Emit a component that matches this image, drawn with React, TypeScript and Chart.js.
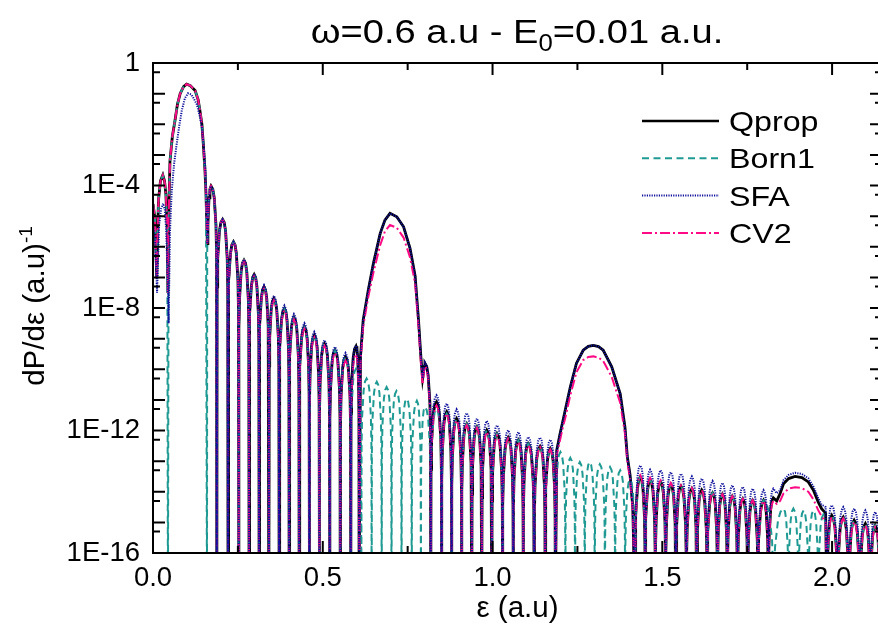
import { useEffect, useRef } from "react";
import { Chart, registerables } from "chart.js";

Chart.register(...registerables);

type Pt = [number, number]; // [energy (a.u.), log10 of dP/dε]

const FONT = "'Liberation Sans', Arial, Helvetica, sans-serif";
const CANVAS_W = 882;
const CANVAS_H = 629;
const X_MIN = 0;
const X_MAX = 2.147;
const Y_MIN = 1e-16;
const Y_MAX = 1;

// ---- axis ticks / labels ----
const xTickLabels = [0, 0.5, 1.0, 1.5, 2.0];
const xMajorTicks = [0.5, 1.0, 1.5, 2.0];
const xMinorTicks = [0.25, 0.75, 1.25, 1.75];
const yTickLabels = [1e-16, 1e-12, 1e-8, 1e-4, 1];
const yMajorTicks = [1e-15, 1e-14, 1e-13, 1e-12, 1e-11, 1e-10, 1e-9, 1e-8, 1e-7, 1e-6, 1e-5, 1e-4, 1e-3, 1e-2, 1e-1];
const yMinorTicks = [5e-16, 5e-15, 5e-14, 5e-13, 5e-12, 5e-11, 5e-10, 5e-9, 5e-8, 5e-7, 5e-6, 5e-5, 5e-4, 5e-3, 5e-2, 5e-1];

const seriesNames = ["Qprop", "Born1", "SFA", "CV2"];

// ---- low-energy part (explicit curve points, log10 values) ----
const qpropStart: Pt[] = [[0.000, -4.6], [0.006, -5.1], [0.011, -7.0], [0.016, -4.5], [0.022, -3.85], [0.029, -3.66], [0.034, -3.85], [0.038, -4.3], [0.042, -5.4], [0.044, -7.5], [0.047, -4.6], [0.050, -3.2], [0.057, -2.4], [0.065, -1.86], [0.072, -1.35], [0.080, -1.0], [0.090, -0.77], [0.099, -0.69], [0.110, -0.74], [0.124, -0.9], [0.133, -1.2], [0.138, -1.54], [0.144, -2.0], [0.148, -2.62], [0.153, -3.5], [0.156, -4.26], [0.160, -5.9]];
const born1Start: Pt[] = [[0.000, -4.6], [0.006, -5.1], [0.011, -7.0], [0.016, -4.5], [0.022, -3.85], [0.029, -3.66], [0.034, -3.85], [0.038, -4.3], [0.042, -5.4], [0.044, -18], [0.046, -5.2], [0.050, -3.2], [0.057, -2.4], [0.065, -1.86], [0.072, -1.35], [0.080, -1.0], [0.090, -0.77], [0.099, -0.69], [0.110, -0.74], [0.124, -0.9], [0.133, -1.2], [0.138, -1.54], [0.144, -2.0], [0.148, -2.62], [0.153, -3.5], [0.156, -4.26], [0.159, -18]];
const sfaStart: Pt[] = [[0.000, -5.3], [0.006, -5.8], [0.012, -7.5], [0.018, -5.3], [0.024, -4.75], [0.030, -4.59], [0.035, -4.8], [0.039, -5.5], [0.043, -7.0], [0.046, -8.5], [0.050, -5.5], [0.055, -4.2], [0.062, -3.3], [0.070, -2.62], [0.078, -2.0], [0.085, -1.54], [0.094, -1.15], [0.103, -0.99], [0.113, -1.03], [0.122, -1.2], [0.129, -1.35], [0.137, -1.7], [0.144, -2.1], [0.150, -2.8], [0.154, -3.4], [0.157, -4.5], [0.160, -5.9]];

// ---- interference lobes 0.17 – 0.60 (peak positions and peak log10 values) ----
const lobeXA = [0.171, 0.205, 0.237, 0.268, 0.298, 0.327, 0.356, 0.387, 0.415, 0.446, 0.475, 0.505, 0.536, 0.567, 0.598];
const qpropPeaksA = [-4.02, -5.11, -5.84, -6.44, -6.91, -7.31, -7.69, -8.02, -8.31, -8.62, -8.89, -9.16, -9.38, -9.6, -9.25];
const sfaPeaksA = [-4.02, -5.11, -5.84, -6.42, -6.88, -7.25, -7.6, -7.92, -8.2, -8.5, -8.78, -9.05, -9.27, -9.47, -9.22];
const cv2PeaksA = [-4.02, -5.11, -5.85, -6.46, -6.94, -7.35, -7.74, -8.07, -8.37, -8.68, -8.95, -9.23, -9.46, -9.72, -9.5];

// ---- first channel-closing hump (0.6 – 0.8) ----
const hump1Qprop: Pt[] = [[0.607, -18], [0.611, -9.6], [0.619, -8.4], [0.634, -7.42], [0.649, -6.55], [0.669, -5.57], [0.683, -5.13], [0.698, -4.91], [0.718, -5.02], [0.738, -5.35], [0.757, -6.05], [0.772, -6.95], [0.782, -8.4], [0.789, -9.6], [0.794, -10.3]];
const hump1Cv2: Pt[] = [[0.607, -18], [0.611, -9.8], [0.619, -8.6], [0.634, -7.64], [0.649, -6.85], [0.669, -5.95], [0.683, -5.5], [0.698, -5.29], [0.718, -5.38], [0.738, -5.7], [0.757, -6.35], [0.772, -7.2], [0.782, -8.6], [0.789, -9.8], [0.794, -10.5]];

// ---- lobes 0.80 – 1.17 ----
const lobeXB = [0.801, 0.835, 0.865, 0.894, 0.924, 0.954, 0.983, 1.013, 1.046, 1.076, 1.105, 1.140, 1.170];
const qpropPeaksB = [-9.81, -11.07, -11.39, -11.61, -11.78, -11.88, -11.99, -12.10, -12.23, -12.32, -12.43, -12.52, -12.59];
const sfaPeaksB = [-9.78, -10.85, -11.12, -11.31, -11.43, -11.61, -11.69, -11.83, -11.99, -12.05, -12.21, -12.23, -12.30];
const cv2PeaksB = [-9.9, -11.18, -11.45, -11.67, -11.83, -11.91, -12.05, -12.16, -12.26, -12.37, -12.48, -12.54, -12.62];

// ---- second hump (1.2 – 1.4) ----
const hump2Qprop: Pt[] = [[1.185, -18], [1.189, -12.65], [1.199, -12.1], [1.207, -11.7], [1.214, -11.34], [1.229, -10.58], [1.247, -9.81], [1.267, -9.38], [1.282, -9.25], [1.297, -9.22], [1.312, -9.26], [1.326, -9.38], [1.351, -9.92], [1.376, -10.8], [1.390, -11.89], [1.397, -12.86], [1.405, -13.45], [1.413, -14.5], [1.420, -18]];
const hump2Cv2: Pt[] = [[1.185, -18], [1.189, -12.8], [1.199, -12.3], [1.207, -11.9], [1.214, -11.6], [1.229, -10.85], [1.247, -10.1], [1.267, -9.7], [1.282, -9.6], [1.297, -9.58], [1.312, -9.62], [1.326, -9.73], [1.351, -10.25], [1.376, -11.1], [1.390, -12.1], [1.397, -13.0], [1.405, -13.6], [1.413, -14.6], [1.420, -18]];

// ---- lobes 1.43 – 1.83 ----
const lobeXC = [1.435, 1.464, 1.495, 1.525, 1.555, 1.587, 1.616, 1.648, 1.677, 1.706, 1.737, 1.766, 1.798, 1.827];
const qpropPeaksC = [-13.52, -13.61, -13.68, -13.76, -13.82, -13.9, -13.95, -14.04, -14.08, -14.15, -14.23, -14.28, -14.28, -14.2];
const sfaPeaksC = [-13.14, -13.28, -13.30, -13.36, -13.41, -13.5, -13.57, -13.65, -13.71, -13.79, -13.84, -13.9, -13.95, -13.9];
const cv2PeaksC = [-13.46, -13.54, -13.63, -13.71, -13.79, -13.88, -13.95, -14.04, -14.08, -14.15, -14.23, -14.28, -14.3, -14.3];

// ---- third hump (1.84 – 1.99) ----
const hump3Qprop: Pt[] = [[1.837, -14.3], [1.847, -14.06], [1.857, -13.74], [1.872, -13.57], [1.891, -13.5], [1.911, -13.54], [1.930, -13.68], [1.945, -13.95], [1.959, -14.33], [1.969, -14.55], [1.981, -14.7], [1.985, -18]];
const hump3Sfa: Pt[] = [[1.837, -14.05], [1.847, -13.95], [1.857, -13.62], [1.872, -13.45], [1.891, -13.38], [1.911, -13.42], [1.930, -13.56], [1.945, -13.83], [1.959, -14.2], [1.969, -14.42], [1.981, -14.5], [1.985, -18]];
const hump3Cv2: Pt[] = [[1.837, -14.4], [1.847, -14.3], [1.857, -14.05], [1.872, -13.9], [1.891, -13.85], [1.911, -13.88], [1.930, -14.0], [1.945, -14.25], [1.959, -14.6], [1.969, -14.8], [1.981, -15.0], [1.985, -18]];

// ---- lobes above 2.0 ----
const lobeXD = [1.999, 2.033, 2.065, 2.098, 2.127];
const qpropPeaksD = [-14.77, -14.83, -14.93, -15.04, -15.1];
const sfaPeaksD = [-14.44, -14.5, -14.55, -14.61, -14.66];
const cv2PeaksD = [-14.83, -14.87, -14.99, -15.1, -15.15];

// ---- Born1 lobes inside the hump regions ----
const born1GapX1 = [0.598, 0.629, 0.659, 0.688, 0.717, 0.747, 0.777];
const born1GapPeaks1 = [-9.98, -10.3, -10.41, -10.58, -10.71, -10.96, -11.03];
const born1PeaksB = [-11.23, -11.3, -11.45, -11.63, -11.78, -11.88, -11.99, -12.10, -12.23, -12.32, -12.43, -12.52, -12.59];
const born1GapX2 = [1.200, 1.229, 1.257, 1.286, 1.316, 1.346, 1.376, 1.405];
const born1GapPeaks2 = [-12.70, -12.89, -13.03, -13.03, -13.1, -13.19, -13.3, -13.6];
const born1GapX3 = [1.857, 1.886, 1.916, 1.945, 1.974];
const born1GapPeaks3 = [-14.55, -14.55, -14.61, -14.61, -14.75];

// ---------------------------------------------------------------
type Part = { curve: Pt[] } | { lobes: number[]; peaks: number[] };
const FLOOR = -18; // zeros of the oscillation, below the axis
// drawing profile of one lobe: [fraction of the way to the zero, decades below the lobe top]
const LOBE_PROFILE: Pt[] = [[0.3, 0.1], [0.55, 0.38], [0.85, 1.27], [0.95, 2.2]];

function buildSeries(parts: Part[]) {
  const out: Pt[] = [];
  parts.forEach((part, i) => {
    if ("curve" in part) {
      out.push(...part.curve);
      return;
    }
    const xs = part.lobes;
    const peaks = part.peaks;
    const n = xs.length;
    const next = parts[i + 1];
    const nextIsCurve = !!next && "curve" in next;
    const left: Pt = out.length ? out[out.length - 1] : [xs[0] - (xs[1] - xs[0]) / 2, FLOOR];
    const right: Pt = nextIsCurve ? (next as any).curve[0] : [xs[n - 1] + (xs[n - 1] - xs[n - 2]) / 2, FLOOR];
    const dips: Pt[] = [left];
    for (let k = 0; k < n - 1; k++) dips.push([(xs[k] + xs[k + 1]) / 2, FLOOR]);
    dips.push(right);
    if (!out.length) out.push(left);
    for (let k = 0; k < n; k++) {
      const xp = xs[k];
      const vp = peaks[k];
      const dl = dips[k];
      const dr = dips[k + 1];
      for (let j = LOBE_PROFILE.length - 1; j >= 0; j--) {
        const [u, drop] = LOBE_PROFILE[j];
        if (vp - drop > dl[1] + 0.3) out.push([xp + (dl[0] - xp) * u, vp - drop]);
      }
      out.push([xp, vp]);
      for (const [u, drop] of LOBE_PROFILE) {
        if (vp - drop > dr[1] + 0.3) out.push([xp + (dr[0] - xp) * u, vp - drop]);
      }
      if (k < n - 1 || !nextIsCurve) out.push(dr);
    }
  });
  return out.map(([x, v]) => ({ x, y: Math.pow(10, v) }));
}

const qpropData = buildSeries([
  { curve: qpropStart },
  { lobes: lobeXA, peaks: qpropPeaksA },
  { curve: hump1Qprop },
  { lobes: lobeXB, peaks: qpropPeaksB },
  { curve: hump2Qprop },
  { lobes: lobeXC, peaks: qpropPeaksC },
  { curve: hump3Qprop },
  { lobes: lobeXD, peaks: qpropPeaksD },
]);

const sfaData = buildSeries([
  { curve: sfaStart },
  { lobes: lobeXA, peaks: sfaPeaksA },
  { curve: hump1Qprop },
  { lobes: lobeXB, peaks: sfaPeaksB },
  { curve: hump2Qprop },
  { lobes: lobeXC, peaks: sfaPeaksC },
  { curve: hump3Sfa },
  { lobes: lobeXD, peaks: sfaPeaksD },
]);

const cv2Data = buildSeries([
  { curve: qpropStart },
  { lobes: lobeXA, peaks: cv2PeaksA },
  { curve: hump1Cv2 },
  { lobes: lobeXB, peaks: cv2PeaksB },
  { curve: hump2Cv2 },
  { lobes: lobeXC, peaks: cv2PeaksC },
  { curve: hump3Cv2 },
  { lobes: lobeXD, peaks: cv2PeaksD },
]);

const born1Data = buildSeries([
  { curve: born1Start },
  {
    lobes: [...lobeXA.slice(0, 14), ...born1GapX1, ...lobeXB, ...born1GapX2, ...lobeXC.slice(0, 13), ...born1GapX3, ...lobeXD],
    peaks: [...qpropPeaksA.slice(0, 14), ...born1GapPeaks1, ...born1PeaksB, ...born1GapPeaks2, ...qpropPeaksC.slice(0, 13), ...born1GapPeaks3, ...qpropPeaksD],
  },
]);

// draw order (lower = on top): SFA above CV2 above Born1 above Qprop
const styles = [
  { color: "#000000", width: 2.8, dash: [] as number[], order: 4 },
  { color: "#1f9a92", width: 2, dash: [7, 4.5], order: 3 },
  { color: "#10109c", width: 2, dash: [1.2, 1.2], order: 1 },
  { color: "#ff0a84", width: 2, dash: [10, 3, 2, 3], order: 2 },
];

function drawRuns(ctx: CanvasRenderingContext2D, runs: { t: string; size: number; dy: number }[], cx: number, baseline: number, sx: number) {
  let total = 0;
  const widths = runs.map((r) => {
    ctx.font = `${r.size}px ${FONT}`;
    const w = ctx.measureText(r.t).width;
    total += w;
    return w;
  });
  ctx.save();
  ctx.translate(cx, baseline);
  ctx.scale(sx, 1);
  let x = -total / 2;
  runs.forEach((r, i) => {
    ctx.font = `${r.size}px ${FONT}`;
    ctx.fillText(r.t, x, r.dy);
    x += widths[i];
  });
  ctx.restore();
}

const decorPlugin = {
  id: "decor",
  afterDatasetsDraw(chart: any) {
    const { ctx, chartArea: a } = chart;
    const xs = chart.scales.x;
    const ys = chart.scales.y;
    ctx.save();
    ctx.strokeStyle = "#000";
    ctx.setLineDash([]);
    ctx.lineWidth = 2;
    ctx.beginPath();
    const seg = (x1: number, y1: number, x2: number, y2: number) => {
      ctx.moveTo(x1, y1);
      ctx.lineTo(x2, y2);
    };
    xMajorTicks.forEach((v) => {
      const p = xs.getPixelForValue(v);
      seg(p, a.bottom, p, a.bottom - 12);
      seg(p, a.top, p, a.top + 12);
    });
    xMinorTicks.forEach((v) => {
      const p = xs.getPixelForValue(v);
      seg(p, a.bottom, p, a.bottom - 7);
      seg(p, a.top, p, a.top + 7);
    });
    yMajorTicks.forEach((v) => {
      const p = ys.getPixelForValue(v);
      seg(a.left, p, a.left + 12, p);
      seg(a.right, p, a.right - 12, p);
    });
    yMinorTicks.forEach((v) => {
      const p = ys.getPixelForValue(v);
      seg(a.left, p, a.left + 7, p);
      seg(a.right, p, a.right - 7, p);
    });
    ctx.stroke();
    ctx.strokeRect(a.left, a.top, a.right - a.left, a.bottom - a.top);
    ctx.restore();
  },
  afterDraw(chart: any) {
    const ctx: CanvasRenderingContext2D = chart.ctx;
    ctx.save();
    ctx.fillStyle = "#000";
    ctx.textAlign = "left";
    ctx.textBaseline = "alphabetic";
    // main title
    drawRuns(ctx, [
      { t: "ω=0.6 a.u - E", size: 34, dy: 0 },
      { t: "0", size: 23, dy: 8 },
      { t: "=0.01 a.u.", size: 34, dy: 0 },
    ], 517, 43, 1.12);
    // y axis title
    ctx.save();
    ctx.translate(44, 306);
    ctx.rotate(-Math.PI / 2);
    drawRuns(ctx, [
      { t: "dP/dε (a.u)", size: 29.5, dy: 0 },
      { t: "-1", size: 19, dy: -12 },
    ], 0, 0, 1);
    ctx.restore();
    // legend
    chart.data.datasets.forEach((ds: any, i: number) => {
      const y = 121 + i * 37.3;
      ctx.save();
      ctx.strokeStyle = ds.borderColor;
      ctx.lineWidth = Math.min(ds.borderWidth, 2.6);
      ctx.setLineDash(ds.borderDash || []);
      ctx.beginPath();
      ctx.moveTo(642, y);
      ctx.lineTo(719, y);
      ctx.stroke();
      ctx.restore();
      ctx.save();
      ctx.font = `28px ${FONT}`;
      ctx.translate(729, y + 10);
      ctx.scale(1.15, 1);
      ctx.fillText(ds.label, 0, 0);
      ctx.restore();
    });
    ctx.restore();
  },
};

export default function App() {
  const ref = useRef<HTMLCanvasElement>(null);
  useEffect(() => {
    const datasets = [qpropData, born1Data, sfaData, cv2Data].map((data, i) => ({
      label: seriesNames[i],
      data,
      borderColor: styles[i].color,
      backgroundColor: styles[i].color,
      borderWidth: styles[i].width,
      borderDash: styles[i].dash,
      pointRadius: 0,
      tension: 0,
      fill: false,
      clip: 0,
      order: styles[i].order,
    }));
    const chart = new Chart(ref.current as HTMLCanvasElement, {
      type: "line",
      data: { datasets },
      options: {
        animation: false,
        responsive: false,
        devicePixelRatio: 1,
        parsing: false,
        normalized: true,
        events: [],
        layout: { padding: { top: 63, left: 0, right: 0, bottom: 0 } },
        plugins: {
          legend: { display: false },
          title: { display: false },
          tooltip: { enabled: false },
        },
        scales: {
          x: {
            type: "linear",
            min: X_MIN,
            max: X_MAX,
            afterBuildTicks: (s: any) => {
              s.ticks = xTickLabels.map((v) => ({ value: v }));
            },
            afterFit: (s: any) => {
              s.height = 76;
            },
            ticks: {
              callback: (v: any) => Number(v).toFixed(1),
              font: { family: FONT, size: 27.5 },
              color: "#000",
              padding: 9,
              maxRotation: 0,
              autoSkip: false,
            },
            grid: { display: false, drawTicks: false },
            border: { display: false },
            title: {
              display: true,
              text: "ε (a.u)",
              font: { family: FONT, size: 29.5 },
              color: "#000",
              padding: { top: 0, bottom: 2 },
            },
          },
          y: {
            type: "logarithmic",
            min: Y_MIN,
            max: Y_MAX,
            afterBuildTicks: (s: any) => {
              s.ticks = yTickLabels.map((v) => ({ value: v }));
            },
            afterFit: (s: any) => {
              s.width = 153;
            },
            ticks: {
              callback: (v: any) => (Number(v) === 1 ? "1" : "1E" + Math.round(Math.log10(Number(v)))),
              font: { family: FONT, size: 27.5 },
              color: "#000",
              padding: 13,
              autoSkip: false,
            },
            grid: { display: false, drawTicks: false },
            border: { display: false },
          },
        },
      } as any,
      plugins: [decorPlugin],
    });
    return () => chart.destroy();
  }, []);
  return (
    <div style={{ position: "absolute", left: 0, top: 0, width: 878, height: 629, overflow: "hidden", background: "#fff" }}>
      <canvas ref={ref} width={CANVAS_W} height={CANVAS_H} style={{ display: "block", width: CANVAS_W, height: CANVAS_H }} />
    </div>
  );
}
